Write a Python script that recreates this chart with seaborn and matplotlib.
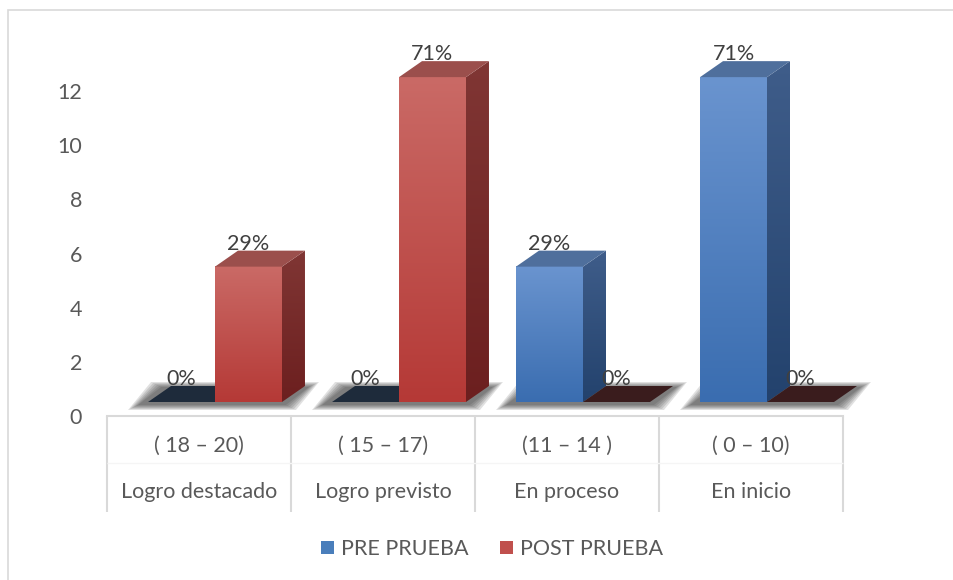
import numpy as np
import pandas as pd
import matplotlib
matplotlib.use('Agg')
import matplotlib.pyplot as plt
import seaborn as sns
from matplotlib.patches import Polygon, Patch, Rectangle
from matplotlib.colors import LinearSegmentedColormap

# datos
categorias = ['( 18 – 20)', '( 15 – 17)', '(11 – 14 )', '( 0 – 10)']
niveles = ['Logro destacado', 'Logro previsto', 'En proceso', 'En inicio']
series = ['PRE PRUEBA', 'POST PRUEBA']
pre_prueba = [0, 0, 5, 12]
post_prueba = [5, 12, 0, 0]
y_ticks = [0, 2, 4, 6, 8, 10, 12]

# estilo por serie: frente (arriba, abajo), lateral (arriba, abajo), tapa, piso vacio
estilo = {
    'PRE PRUEBA': dict(frente=('#6a94cf', '#3a6db0'), lado=('#3f5d8a', '#23426d'),
                       tapa='#4f6f9c', piso='#1e2b3b', leyenda='#4a7ebb'),
    'POST PRUEBA': dict(frente=('#ca6a66', '#b53936'), lado=('#803634', '#6c1f1f'),
                        tapa='#9b4f4c', piso='#3a1c1d', leyenda='#c0504d'),
}

sns.set_theme(style='white')
plt.rcParams['font.family'] = ['Lato', 'DejaVu Sans']
GRIS = '#595959'
FS = 15.5

df = pd.DataFrame({
    'cat': categorias * 2,
    'serie': [series[0]] * len(categorias) + [series[1]] * len(categorias),
    'valor': pre_prueba + post_prueba,
})
totales = {series[0]: sum(pre_prueba), series[1]: sum(post_prueba)}

fig = plt.figure(figsize=(9.54, 5.8), dpi=100)
ax = fig.add_axes([107 / 954, 164 / 580, 736 / 954, 379 / 580])
sns.barplot(data=df, x='cat', y='valor', hue='serie', order=categorias, hue_order=series,
            palette=[estilo[s]['leyenda'] for s in series], width=0.728, saturation=1,
            ax=ax, legend=False)
XLIM, YLIM = (-0.5, 3.5), (0, 14)
ax.set_xlim(*XLIM)
ax.set_ylim(*YLIM)

# efecto 3D (en pixeles)
DX, DY = 23, 16   # profundidad
SX, SY = 16, 14   # desplazamiento del frente respecto a los ejes
to_px = ax.transData.transform
to_data = ax.transData.inverted().transform


def poligono(pts, **kw):
    ax.add_patch(Polygon(to_data(np.array(pts, dtype=float)), closed=True, clip_on=False, **kw))


barras = []
for p in list(ax.patches):
    xc = p.get_x() + p.get_width() / 2
    ic = int(round(xc))
    serie = series[0] if xc < ic else series[1]
    barras.append((p.get_x(), p.get_width(), p.get_height(), ic, serie))
    p.set_visible(False)
barras.sort(key=lambda b: b[0])

# sombra del piso por categoria
for ic in range(len(categorias)):
    grupo = [b for b in barras if b[3] == ic]
    xl = min(b[0] for b in grupo)
    xr = max(b[0] + b[1] for b in grupo)
    (x0, y0), (x1, _) = to_px([(xl, 0), (xr, 0)])
    x0, x1, y0 = x0 + SX - 8, x1 + SX + 2, y0 + SY - 2
    for k in range(6, 0, -1):
        e = 2.0 * k
        poligono([(x0 - e, y0 - e / 2), (x1 + e, y0 - e / 2), (x1 + DX + e, y0 + DY + e / 2),
                  (x0 + DX - e, y0 + DY + e / 2)], facecolor='#2a2a2a', alpha=0.14,
                 edgecolor='none', zorder=1)

for x, w, h, ic, serie in barras:
    st = estilo[serie]
    (x0, y0), (x1, y1) = to_px([(x, 0), (x + w, h)])
    x0, x1, y0, y1 = x0 + SX, x1 + SX, y0 + SY, y1 + SY
    if h > 0:
        (dx0, dy0), (dx1, dy1) = to_data([(x0, y0), (x1, y1)])
        cmap = LinearSegmentedColormap.from_list('f', [st['frente'][1], st['frente'][0]])
        ax.imshow(np.linspace(0, 1, 256).reshape(-1, 1), cmap=cmap, origin='lower',
                  extent=[dx0, dx1, dy0, dy1], aspect='auto', zorder=3, interpolation='bilinear')
        # lateral
        cmap_l = LinearSegmentedColormap.from_list('l', [st['lado'][1], st['lado'][0]])
        lado = Polygon(to_data(np.array([(x1, y0), (x1 + DX, y0 + DY), (x1 + DX, y1 + DY), (x1, y1)])),
                       closed=True, facecolor='none', edgecolor='none')
        ax.add_patch(lado)
        (lx0, ly0), (lx1, ly1) = to_data([(x1, y0), (x1 + DX, y1 + DY)])
        im = ax.imshow(np.linspace(0, 1, 256).reshape(-1, 1), cmap=cmap_l, origin='lower',
                       extent=[lx0, lx1, ly0, ly1], aspect='auto', zorder=3, interpolation='bilinear')
        im.set_clip_path(lado)
        poligono([(x0, y1), (x1, y1), (x1 + DX, y1 + DY), (x0 + DX, y1 + DY)],
                 facecolor=st['tapa'], edgecolor='none', zorder=3)
    else:
        poligono([(x0, y0), (x1, y0), (x1 + DX, y0 + DY), (x0 + DX, y0 + DY)],
                 facecolor=st['piso'], edgecolor='none', zorder=3)
    pct = round(h / totales[serie] * 100)
    tx, ty = to_data([((x0 + x1) / 2, y1 + DY - 3)])[0]
    ax.text(tx, ty, f'{pct}%', ha='center', va='bottom', fontsize=FS, color='#404040',
            zorder=5, clip_on=False)

ax.set_xlim(*XLIM)
ax.set_ylim(*YLIM)

# ejes
ax.set_xlabel('')
ax.set_ylabel('')
ax.set_xticks([])
ax.set_yticks(y_ticks)
ax.tick_params(axis='y', length=0, pad=18, labelsize=FS, labelcolor=GRIS)
for s in ['top', 'right', 'left']:
    ax.spines[s].set_visible(False)
ax.spines['bottom'].set_color('#d9d9d9')
ax.spines['bottom'].set_linewidth(1.5)

# tabla de categorias
trans = ax.get_xaxis_transform()
bordes = np.arange(len(categorias) + 1) - 0.5
ax.vlines(bordes, -0.253, 0, transform=trans, colors='#d9d9d9', lw=1.5, clip_on=False)
ax.hlines(-0.124, bordes[0], bordes[-1], transform=trans, colors='#f5f5f5', lw=1, clip_on=False)
for i, (c, n) in enumerate(zip(categorias, niveles)):
    ax.text(i, -0.079, c, transform=trans, ha='center', va='center', fontsize=FS, color=GRIS)
    ax.text(i, -0.2, n, transform=trans, ha='center', va='center', fontsize=FS, color=GRIS)

# leyenda
handles = [Patch(facecolor=estilo[s]['leyenda'], edgecolor='none') for s in series]
ax.legend(handles, series, loc='center', bbox_to_anchor=(492 / 954, 31 / 580),
          bbox_transform=fig.transFigure, ncol=2, frameon=False, fontsize=FS,
          handlelength=0.6, handleheight=0.6, handletextpad=0.3, columnspacing=1.5,
          labelcolor=GRIS)

# borde del grafico
fig.add_artist(Rectangle((8 / 954, -0.1), 1.2, 570 / 580 + 0.1, transform=fig.transFigure,
                         fill=False, edgecolor='#d9d9d9', lw=1.2))

fig.savefig('out.png', dpi=100)
